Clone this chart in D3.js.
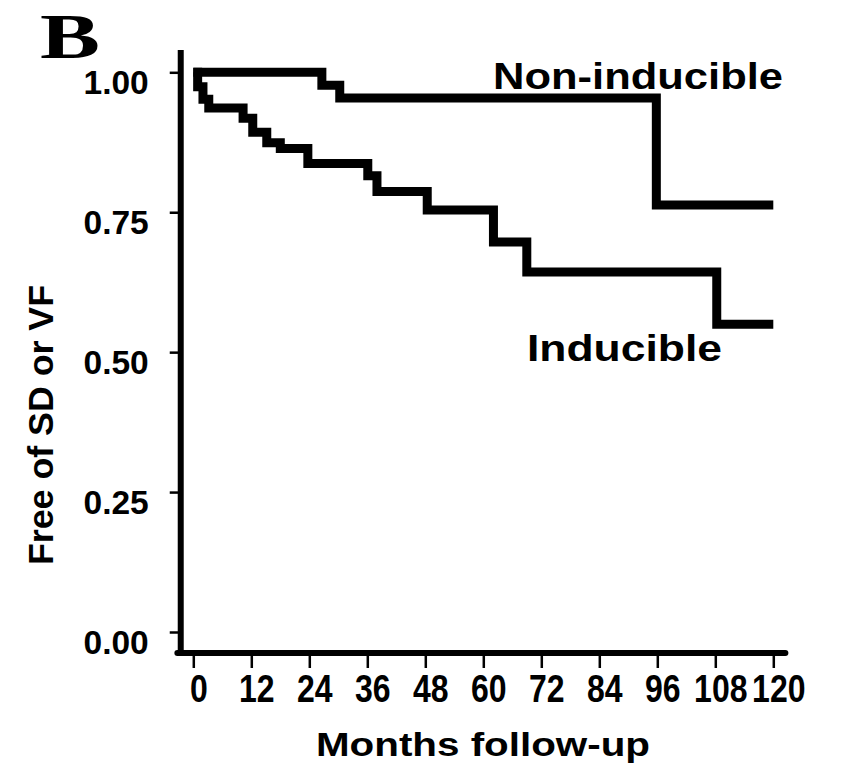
<!DOCTYPE html>
<html>
<head>
<meta charset="utf-8">
<script src="https://cdn.jsdelivr.net/npm/d3@7"></script>
<style>
  body { margin: 0; background: #fff; }
  svg text { font-family: "Liberation Sans", Arial, sans-serif; font-weight: bold; fill: #000; }
</style>
</head>
<body>
<div id="container"></div>
<script>
// Chart dimensions
const width = 850;
const height = 765;

// Data
const monthTicks = [0, 12, 24, 36, 48, 60, 72, 84, 96, 108, 120];
const survivalTicks = [0, 0.25, 0.5, 0.75, 1];

const inducibleMonths = [0, 0.9, 2.0, 3.2, 10.3, 12.3, 15.2, 18.0, 23.7, 36.1, 38.0, 48.4, 62.1, 69.0, 108.3, 120];
const inducibleSurvival = [1, 0.974, 0.952, 0.936, 0.918, 0.893, 0.874, 0.864, 0.837, 0.815, 0.787, 0.754, 0.697, 0.643, 0.550, 0.550];

const nonInducibleMonths = [0, 26.6, 30.3, 95.8, 120];
const nonInducibleSurvival = [1, 0.977, 0.954, 0.763, 0.763];

// Scales
const x = d3.scaleLinear()
    .domain([0, 120])
    .range([193.3, 773.3]);

const y = d3.scaleLinear()
    .domain([0, 1])
    .range([632, 72.3]);

const svg = d3.select("#container")
    .append("svg")
    .attr("width", width)
    .attr("height", height);

// axis spines (slightly past the data range, like the original)
const xAxisY = y(-0.0375);
svg.append("line")
    .attr("x1", x(-2.6)).attr("x2", x(-2.6))
    .attr("y1", y(1.04)).attr("y2", xAxisY)
    .attr("stroke", "#000").attr("stroke-width", 6);

svg.append("line")
    .attr("x1", x(-3.3)).attr("x2", x(122.5))
    .attr("y1", xAxisY).attr("y2", xAxisY)
    .attr("stroke", "#000").attr("stroke-width", 6)
    .attr("stroke-linecap", "round");

// y axis ticks + labels
const yAxis = svg.append("g")
    .attr("transform", `translate(${x(-2.6)},0)`)
    .call(d3.axisLeft(y).tickValues(survivalTicks).tickFormat(d3.format(".2f"))
        .tickSize(11).tickPadding(21));
yAxis.select(".domain").remove();
yAxis.selectAll("line").attr("stroke-width", 2.5);
yAxis.selectAll("text")
    .attr("dy", null)
    .attr("y", 21.5)
    .style("font-size", "33.5px");

// x axis ticks + labels (digits are tall and narrow in the original)
const stretch = 1.22;
const xAxis = svg.append("g")
    .attr("transform", `translate(0,${xAxisY})`)
    .call(d3.axisBottom(x).tickValues(monthTicks).tickSize(15).tickPadding(0));
xAxis.select(".domain").remove();
xAxis.selectAll("line").attr("stroke-width", 2.5);
xAxis.selectAll("text")
    .attr("dy", null)
    .attr("y", 49 / stretch)
    .attr("x", 5)
    .attr("transform", `scale(1,${stretch})`)
    .style("font-size", "32px");

// survival curves
const line = d3.line()
    .x(d => x(d[0]))
    .y(d => y(d[1]))
    .curve(d3.curveStepAfter);

const curves = [
    d3.zip(inducibleMonths, inducibleSurvival),
    d3.zip(nonInducibleMonths, nonInducibleSurvival)
];

svg.selectAll(".curve")
    .data(curves)
    .enter()
    .append("path")
    .attr("class", "curve")
    .attr("d", line)
    .attr("fill", "none")
    .attr("stroke", "#000")
    .attr("stroke-width", 9)
    .attr("stroke-linejoin", "miter");

// curve labels
svg.append("text")
    .attr("x", 493).attr("y", 89)
    .attr("textLength", 290).attr("lengthAdjust", "spacingAndGlyphs")
    .style("font-size", "37px")
    .text("Non-inducible");

svg.append("text")
    .attr("x", 527).attr("y", 361)
    .attr("textLength", 195).attr("lengthAdjust", "spacingAndGlyphs")
    .style("font-size", "37px")
    .text("Inducible");

// axis titles
svg.append("text")
    .attr("x", 316).attr("y", 756)
    .attr("textLength", 334).attr("lengthAdjust", "spacingAndGlyphs")
    .style("font-size", "34px")
    .text("Months follow-up");

svg.append("text")
    .attr("transform", "translate(53,425) rotate(-90)")
    .attr("text-anchor", "middle")
    .attr("textLength", 280).attr("lengthAdjust", "spacingAndGlyphs")
    .style("font-size", "35px")
    .text("Free of SD or VF");

// panel letter
svg.append("text")
    .attr("x", 40).attr("y", 58)
    .attr("textLength", 60).attr("lengthAdjust", "spacingAndGlyphs")
    .style("font-family", "'Liberation Serif', 'Times New Roman', serif")
    .style("font-size", "64px")
    .text("B");
</script>
</body>
</html>
